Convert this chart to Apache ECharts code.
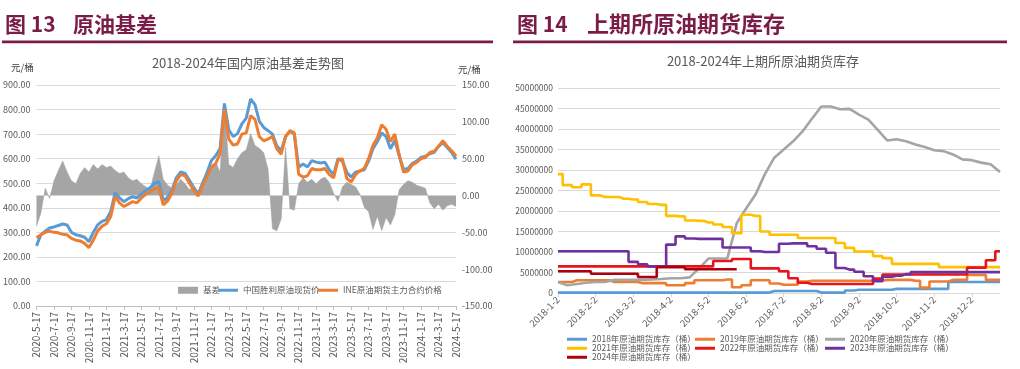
<!DOCTYPE html>
<html><head><meta charset="utf-8">
<script src="https://cdn.jsdelivr.net/npm/echarts@6/dist/echarts.min.js"></script>
<style>html,body{margin:0;padding:0;background:#fff}#c{width:1020px;height:369px}</style>
</head><body><div id="c"></div>
<script>
// ---------- Figure 13: crude oil basis (half-month samples, 2020-5-17 .. 2024-5-17) ----------
const basisDates = (function () {
  const out = []; let y = 2020, m = 5;
  out.push('2020-5-17');
  while (!(y === 2024 && m === 5)) {
    m++; if (m > 12) { m = 1; y++; }
    out.push(y + '-' + m + '-2');
    out.push(y + '-' + m + '-17');
  }
  return out;
})();
const spotPrice = [245,290,305,318,322,328,334,330,300,290,286,280,262,300,330,345,352,385,462,440,425,437,445,440,456,470,482,500,506,430,442,472,522,546,540,512,482,456,500,542,592,612,640,825,718,690,702,742,765,843,820,752,727,714,700,652,632,690,712,700,565,578,566,592,586,582,585,555,535,600,590,545,525,545,550,555,590,640,670,705,690,640,675,612,556,560,580,590,605,610,620,626,650,665,645,625,598];
const inePrice = [278,290,300,305,300,298,292,290,275,268,265,255,238,268,305,325,335,365,445,420,405,415,425,420,440,455,465,478,482,412,428,460,510,535,530,500,472,448,490,525,565,580,620,800,680,655,660,700,705,775,760,690,673,680,690,640,618,690,714,705,537,525,530,560,555,555,560,535,522,595,600,520,505,535,550,560,600,655,685,738,720,670,700,615,545,550,575,585,600,605,625,630,650,673,650,632,611];
const basis = [-42,-24,10,-4,20,34,47,32,20,16,30,38,32,42,36,42,38,40,34,30,32,24,20,22,16,12,8,32,54,22,14,10,14,22,16,8,12,5,20,26,36,46,32,124,42,38,50,58,62,84,68,64,58,36,-45,-48,-32,66,-18,-20,16,24,18,22,16,22,25,18,3,-8,12,18,15,12,2,-16,-22,-46,-28,-48,-30,-40,-26,8,15,20,18,14,12,10,-10,-18,-12,-20,-14,-12,-15];
const leftTicks = { min: 0, max: 900, step: 100 };
const rightTicks = { min: -150, max: 150, step: 50 };

// ---------- Figure 14: SHFE crude futures inventory (million barrels, weekly samples on a 2018 calendar) ----------
const invDates = ['2018-1-2','2018-1-9','2018-1-16','2018-1-23','2018-2-2','2018-2-9','2018-2-16','2018-2-23','2018-3-2','2018-3-9','2018-3-16','2018-3-23','2018-4-2','2018-4-9','2018-4-16','2018-4-23','2018-5-2','2018-5-9','2018-5-16','2018-5-23','2018-6-2','2018-6-9','2018-6-16','2018-6-23','2018-7-2','2018-7-9','2018-7-16','2018-7-23','2018-8-2','2018-8-9','2018-8-16','2018-8-23','2018-9-2','2018-9-9','2018-9-16','2018-9-23','2018-10-2','2018-10-9','2018-10-16','2018-10-23','2018-11-2','2018-11-9','2018-11-16','2018-11-23','2018-12-2','2018-12-9','2018-12-16','2018-12-23'];
const inv2018 = [0.1,0.1,0.1,0.1,0.1,0.1,0.1,0.1,0.1,0.1,0.1,0.1,0.1,0.1,0.1,0.1,0.1,0.1,0.1,0.1,0.1,0.1,0.1,0.5,0.5,0.5,0.5,0.5,0.1,0.1,0.1,0.6,0.8,0.8,0.8,0.8,1.0,1.0,1.0,1.0,1.0,1.0,2.7,2.7,2.7,2.7,2.7,2.7];
const inv2019 = [2.7,2.7,3.1,3.1,3.1,3.1,2.7,2.7,2.7,2.4,2.4,2.4,1.9,1.9,2.4,3.1,3.1,3.1,3.3,1.4,1.9,3.1,3.1,2.3,2.0,2.0,2.8,3.0,3.0,3.0,3.0,3.0,3.0,3.0,3.0,3.2,3.2,3.2,3.0,1.3,2.8,2.8,3.2,3.2,4.4,4.4,3.2,3.2];
const inv2020 = [2.7,1.9,2.2,2.5,2.7,2.7,3.2,3.2,3.2,3.2,3.3,3.4,3.6,3.6,3.8,6.0,8.4,8.4,8.4,17.0,20.6,24.0,29.0,33.0,35.0,37.0,39.4,42.5,45.5,45.5,44.8,44.9,43.5,42.3,39.8,37.2,37.5,37.0,36.2,35.6,34.8,34.6,33.8,32.6,32.4,31.8,31.4,29.5];
const inv2021 = [29.0,26.3,25.8,26.5,23.8,23.4,23.4,23.0,22.8,22.2,21.7,21.5,18.8,18.7,17.7,17.6,17.2,16.7,16.1,14.6,19.1,18.8,15.0,14.2,14.2,14.2,13.4,13.4,13.4,13.4,12.2,11.0,10.1,10.1,9.0,8.5,7.1,7.1,7.1,7.1,7.1,6.3,6.3,6.3,6.3,6.3,6.3,6.3];
const inv2022 = [6.5,6.5,6.5,6.5,6.5,6.5,6.5,6.5,6.5,6.5,6.5,6.5,6.5,6.5,6.5,6.5,6.5,7.8,7.8,8.3,8.3,6.0,6.0,6.0,5.3,3.6,2.5,2.2,2.2,2.2,2.2,2.2,2.2,2.2,3.5,4.5,4.5,4.5,4.5,4.5,4.5,4.5,4.5,4.5,6.2,6.2,8.0,10.2];
const inv2023 = [10.2,10.2,10.2,10.2,10.2,10.2,10.2,10.2,7.6,7.0,6.5,6.5,11.8,13.8,13.3,13.2,13.2,13.2,11.1,11.1,11.1,10.2,10.0,10.0,12.0,12.1,12.1,11.4,10.8,9.8,6.1,5.7,5.2,4.1,2.9,4.0,4.2,4.6,5.1,5.1,5.1,5.1,5.1,5.1,5.1,5.1,5.1,5.1];
const inv2024 = [5.3,5.3,5.3,5.3,4.7,4.7,4.7,4.7,4.7,3.9,3.9,6.3,6.3,6.3,5.8,5.8,5.8,5.8,5.8,5.8];
const invTicks = { min: 0, max: 50, step: 5 };

const invNames = ['2018年原油期货库存（桶）','2019年原油期货库存（桶）','2020年原油期货库存（桶）','2021年原油期货库存（桶）','2022年原油期货库存（桶）','2023年原油期货库存（桶）','2024年原油期货库存（桶）'];
const invData = [inv2018, inv2019, inv2020, inv2021, inv2022, inv2023, inv2024];
const invColors = ['#5B9BD5','#ED7D31','#A5A5A5','#FFC000','#E8141B','#7030A0','#B00010'];
const invStep = ['middle','middle',false,'middle','middle','middle','middle'];

const FONT = '"Noto Sans CJK SC","Noto Sans",sans-serif';
const TXT = '#595959';
const MAROON = '#7A1C48';
const GRID = '#D9D9D9';

const chart = echarts.init(document.getElementById('c'));

const invSeries = invNames.map((n, k) => ({
  name: n, type: 'line', xAxisIndex: 1, yAxisIndex: 2, data: invData[k], step: invStep[k],
  symbol: 'none', lineStyle: { width: 2.6, color: invColors[k] }, itemStyle: { color: invColors[k] }
}));

const legendCommon = { icon: 'rect', itemWidth: 20, itemHeight: 3, textStyle: { fontSize: 8.5, color: TXT, fontFamily: FONT }, padding: 0, itemGap: 0 };
const invLegPos = [[567,335],[695,335],[825,335],[567,344],[695,344],[825,344],[567,353]];

chart.setOption({
  animation: false,
  textStyle: { fontFamily: FONT },
  grid: [
    { left: 36, top: 85, width: 420, height: 221 },
    { left: 558, top: 88, width: 442, height: 205 }
  ],
  xAxis: [
    { type: 'category', gridIndex: 0, data: basisDates, boundaryGap: false,
      axisLine: { lineStyle: { color: '#BFBFBF' } },
      axisTick: { interval: 3, length: 4, lineStyle: { color: '#BFBFBF' } },
      axisLabel: { interval: 3, rotate: 90, fontSize: 10, color: TXT, margin: 6 } },
    { type: 'category', gridIndex: 1, data: invDates, boundaryGap: false,
      axisLine: { lineStyle: { color: GRID } },
      axisTick: { interval: 3, length: 4, lineStyle: { color: GRID } },
      axisLabel: { interval: 3, rotate: 45, fontSize: 9.5, color: TXT, margin: 5 } }
  ],
  yAxis: [
    { type: 'value', gridIndex: 0, min: leftTicks.min, max: leftTicks.max, interval: leftTicks.step,
      axisLabel: { formatter: v => v.toFixed(2), fontSize: 9, color: TXT, margin: 6 },
      splitLine: { lineStyle: { color: GRID } }, axisLine: { show: false }, axisTick: { show: false } },
    { type: 'value', gridIndex: 0, position: 'right', min: rightTicks.min, max: rightTicks.max, interval: rightTicks.step,
      axisLabel: { formatter: v => v.toFixed(2), fontSize: 9, color: TXT, margin: 6 },
      splitLine: { show: false }, axisLine: { show: false }, axisTick: { show: false } },
    { type: 'value', gridIndex: 1, min: invTicks.min, max: invTicks.max, interval: invTicks.step,
      axisLabel: { formatter: v => String(Math.round(v * 1000000)), fontSize: 8.5, color: TXT, margin: 5 },
      splitLine: { lineStyle: { color: GRID } }, axisLine: { show: false }, axisTick: { show: false } }
  ],
  legend: [
    Object.assign({}, legendCommon, { data: ['基差'], left: 178, top: 286, itemHeight: 7 }),
    Object.assign({}, legendCommon, { data: ['中国胜利原油现货价'], left: 218, top: 286 }),
    Object.assign({}, legendCommon, { data: ['INE原油期货主力合约价格'], left: 318, top: 286 })
  ].concat(invNames.map((n, k) => Object.assign({}, legendCommon, { data: [n], left: invLegPos[k][0], top: invLegPos[k][1] }))),
  series: [
    { name: '基差', type: 'line', xAxisIndex: 0, yAxisIndex: 1, data: basis, symbol: 'none',
      lineStyle: { width: 0.5, color: '#A5A5A5' }, areaStyle: { color: '#A5A5A5', opacity: 1 }, itemStyle: { color: '#A5A5A5' } },
    { name: '中国胜利原油现货价', type: 'line', xAxisIndex: 0, yAxisIndex: 0, data: spotPrice, symbol: 'none',
      lineStyle: { width: 3, color: '#5B9BD5' }, itemStyle: { color: '#5B9BD5' } },
    { name: 'INE原油期货主力合约价格', type: 'line', xAxisIndex: 0, yAxisIndex: 0, data: inePrice, symbol: 'none',
      lineStyle: { width: 3, color: '#ED7D31' }, itemStyle: { color: '#ED7D31' } }
  ].concat(invSeries),
  graphic: [
    { type: 'text', x: 5, y: 24, style: { text: '图 13', fill: MAROON, fontSize: 21, fontWeight: 'bold', fontFamily: FONT, verticalAlign: 'middle' } },
    { type: 'text', x: 73, y: 24, style: { text: '原油基差', fill: MAROON, fontSize: 21, fontWeight: 'bold', fontFamily: FONT, verticalAlign: 'middle' } },
    { type: 'rect', shape: { x: 2, y: 40.5, width: 491, height: 2.7 }, style: { fill: MAROON } },
    { type: 'text', x: 517, y: 24, style: { text: '图 14', fill: MAROON, fontSize: 21, fontWeight: 'bold', fontFamily: FONT, verticalAlign: 'middle' } },
    { type: 'text', x: 587, y: 24, style: { text: '上期所原油期货库存', fill: MAROON, fontSize: 22, fontWeight: 'bold', fontFamily: FONT, verticalAlign: 'middle' } },
    { type: 'rect', shape: { x: 513, y: 40.5, width: 494, height: 2.7 }, style: { fill: MAROON } },
    { type: 'text', x: 248, y: 63, style: { text: '2018-2024年国内原油基差走势图', fill: TXT, fontSize: 13, fontFamily: FONT, align: 'center', verticalAlign: 'middle' } },
    { type: 'text', x: 763, y: 61, style: { text: '2018-2024年上期所原油期货库存', fill: TXT, fontSize: 13, fontFamily: FONT, align: 'center', verticalAlign: 'middle' } },
    { type: 'text', x: 11, y: 67, style: { text: '元/桶', fill: '#404040', fontSize: 9.5, fontFamily: FONT, verticalAlign: 'middle' } },
    { type: 'text', x: 458, y: 69, style: { text: '元/桶', fill: '#404040', fontSize: 9.5, fontFamily: FONT, verticalAlign: 'middle' } }
  ]
});
</script>
</body></html>
